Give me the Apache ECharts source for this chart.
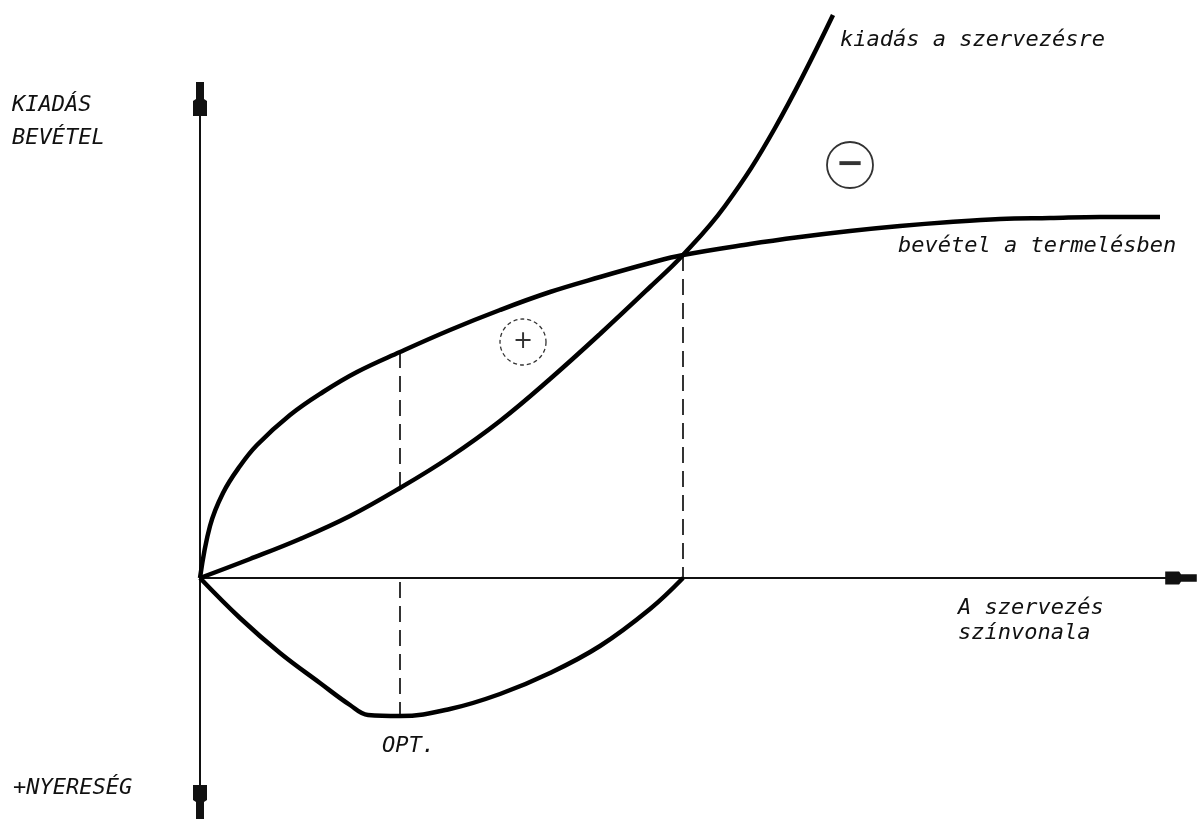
<!DOCTYPE html>
<html>
<head>
<meta charset="utf-8">
<script src="https://cdn.jsdelivr.net/npm/echarts@6/dist/echarts.min.js"></script>
<style>
html, body { margin: 0; padding: 0; background: #fff; }
#main { width: 1198px; height: 821px; }
</style>
</head>
<body>
<div id="main"></div>
<script>
// kiadás a szervezésre (cost of organisation)
var costX = [0, 50, 100, 150, 200, 250, 300, 350, 400, 450, 483, 525, 575, 633];
var costY = [0, 19, 39, 62, 90, 121, 157, 199, 244, 291, 323, 372, 450, 563];

// bevétel a termelésben (revenue)
var revX = [0, 10, 23, 40, 57, 90, 123, 157, 200, 250, 300, 350, 400, 450, 483, 550, 600, 650, 700, 750, 800, 850, 900, 960];
var revY = [0, 52, 85, 112, 133, 163, 186, 206, 226, 248, 268, 286, 301, 315, 323, 334, 341, 347, 352, 356, 359, 360, 361, 361];

// nyereség, drawn downwards
var profitX = [0, 40, 80, 120, 150, 168, 200, 250, 300, 350, 400, 450, 483];
var profitY = [0, -40, -75, -105, -127, -137, -138, -131, -116, -95, -68, -31, 0];

var optX = 200;      // OPT.
var breakX = 483;    // metszéspont

var signs = [
    { name: '+', x: 323, y: 236 },
    { name: '−', x: 650, y: 413 }
];

function pairs(xs, ys) {
    return xs.map(function (x, i) { return [x, ys[i]]; });
}
function yAt(xs, ys, x) {
    return ys[xs.indexOf(x)];
}

var txtFont = 'italic 22px "DejaVu Sans Mono"';
function label(text, x, y) {
    return { type: 'text', x: x, y: y, style: { text: text, font: txtFont, fill: '#111', verticalAlign: 'middle' } };
}

var arrowPath = 'path://M3,0 L11,0 L11,17 L14,19 L14,34 L0,34 L0,19 L3,17 Z';

var myChart = echarts.init(document.getElementById('main'));
var dashed = { color: '#000', width: 1.6, type: [16, 8] };
var curve = { color: '#000', width: 4.5 };

option = {
    animation: false,
    backgroundColor: '#fff',
    grid: { left: 200, right: 17, top: 99, bottom: 19 },
    xAxis: {
        type: 'value', min: 0, max: 981,
        axisLine: { onZero: true, symbol: ['none', arrowPath], symbolSize: [13, 36], lineStyle: { color: '#111', width: 2 } },
        axisTick: { show: false }, axisLabel: { show: false }, splitLine: { show: false }
    },
    yAxis: {
        type: 'value', min: -224, max: 479,
        axisLine: { show: true, onZero: false, symbol: [arrowPath, arrowPath], symbolSize: [14, 36], lineStyle: { color: '#111', width: 2 } },
        axisTick: { show: false }, axisLabel: { show: false }, splitLine: { show: false }
    },
    series: [
        { name: 'kiadás a szervezésre', type: 'line', data: pairs(costX, costY), smooth: 0.4, showSymbol: false, clip: false, lineStyle: curve, z: 3 },
        { name: 'bevétel a termelésben', type: 'line', data: pairs(revX, revY), smooth: 0.4, showSymbol: false, clip: false, lineStyle: curve, z: 3 },
        { name: 'nyereség', type: 'line', data: pairs(profitX, profitY), smooth: 0.4, showSymbol: false, clip: false, lineStyle: curve, z: 3 },
        { type: 'line', data: [[optX, yAt(revX, revY, optX)], [optX, yAt(costX, costY, optX)]], showSymbol: false, lineStyle: dashed },
        { type: 'line', data: [[optX, -4], [optX, yAt(profitX, profitY, optX)]], showSymbol: false, lineStyle: dashed },
        { type: 'line', data: [[breakX, yAt(costX, costY, breakX)], [breakX, 0]], showSymbol: false, lineStyle: dashed },
        {
            type: 'scatter', symbol: 'circle', symbolSize: 46, z: 4,
            data: signs.map(function (s, i) {
                return {
                    value: [s.x, s.y],
                    itemStyle: { color: '#fff', borderColor: '#000', borderWidth: i === 0 ? 1.3 : 1.8, borderType: i === 0 ? [4, 3] : 'solid' },
                    label: {
                        show: true, position: 'inside', formatter: s.name, color: '#000',
                        fontFamily: 'DejaVu Sans', fontSize: i === 0 ? 24 : 34, fontWeight: i === 0 ? 'normal' : 'bold'
                    }
                };
            })
        }
    ],
    graphic: [
        label('KIADÁS', 12, 105),
        label('BEVÉTEL', 12, 138),
        label('kiadás a szervezésre', 840, 40),
        label('bevétel a termelésben', 898, 246),
        label('A szervezés', 958, 608),
        label('színvonala', 958, 633),
        label('+NYERESÉG', 13, 788),
        label('OPT.', 382, 746)
    ]
};
myChart.setOption(option);
</script>
</body>
</html>
